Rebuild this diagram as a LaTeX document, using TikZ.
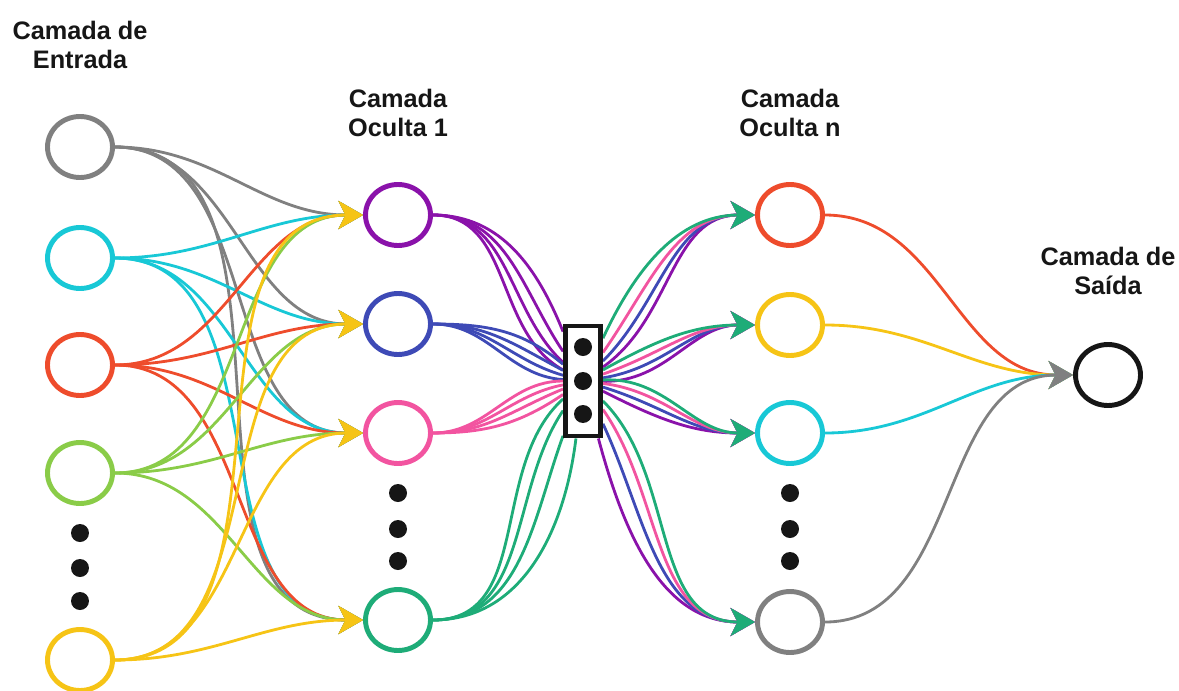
\documentclass[tikz,border=0pt]{standalone}
\usepackage{fontspec}
\setmainfont{Liberation Sans}
\usepackage{xcolor}
\usepackage{tikz}
\usetikzlibrary{arrows.meta,shapes.geometric,backgrounds}

\definecolor{cGray}{RGB}{128,128,128}
\definecolor{cCyan}{RGB}{24,200,214}
\definecolor{cRed}{RGB}{238,76,44}
\definecolor{cLime}{RGB}{138,204,72}
\definecolor{cYellow}{RGB}{246,196,22}
\definecolor{cPurple}{RGB}{138,18,170}
\definecolor{cBlue}{RGB}{62,74,182}
\definecolor{cPink}{RGB}{242,84,160}
\definecolor{cGreen}{RGB}{30,172,120}
\definecolor{cInk}{RGB}{22,22,22}

\begin{document}
\begin{tikzpicture}[x=0.02cm, y=-0.02cm,
      neuron/.style={ellipse, line width=2.8pt, fill=white, inner sep=0pt,
                     minimum width=1.3cm, minimum height=1.22cm},
      link/.style={line width=1.6pt},
      arr/.style={-{Stealth[length=14pt, width=16pt, inset=4pt]}},
      lbl/.style={font=\fontsize{14.4}{16}\selectfont\bfseries, text=cInk, align=center}
    ]
    \useasboundingbox (0,0) rectangle (1179,690);

    % ══ layer titles ══════════════════════════════════════════════════════════
    \node[lbl] (tIn)  at (80,45)    {Camada de\\Entrada};
    \node[lbl] (tH1)  at (398,113)  {Camada\\Oculta 1};
    \node[lbl] (tHn)  at (790,113)  {Camada\\Oculta n};
    \node[lbl] (tOut) at (1108,271) {Camada de\\Saída};

    % ══ neurons ═══════════════════════════════════════════════════════════════
    % input layer
    \node[neuron, draw=cGray]   (i1) at (80,147) {};
    \node[neuron, draw=cCyan]   (i2) at (80,258) {};
    \node[neuron, draw=cRed]    (i3) at (80,365) {};
    \node[neuron, draw=cLime]   (i4) at (80,473) {};
    \node[neuron, draw=cYellow] (i5) at (80,660) {};

    % hidden layer 1
    \node[neuron, draw=cPurple] (a1) at (398,215) {};
    \node[neuron, draw=cBlue]   (a2) at (398,324) {};
    \node[neuron, draw=cPink]   (a3) at (398,433) {};
    \node[neuron, draw=cGreen]  (a4) at (398,620) {};

    % hidden layer n
    \node[neuron, draw=cRed]    (b1) at (790,215) {};
    \node[neuron, draw=cYellow] (b2) at (790,325) {};
    \node[neuron, draw=cCyan]   (b3) at (790,433) {};
    \node[neuron, draw=cGray]   (b4) at (790,622) {};

    % output
    \node[neuron, draw=cInk] (out) at (1108,375) {};

    % the "more layers" box
    \node[draw=cInk, line width=2.8pt, fill=white, inner sep=0pt,
          minimum width=0.7cm, minimum height=2.2cm] (box) at (583,381) {};
    \fill[cInk] ([yshift=0.68cm]box.center) circle (0.18cm);
    \fill[cInk] (box.center) circle (0.18cm);
    \fill[cInk] ([yshift=-0.66cm]box.center) circle (0.18cm);

    % vertical ellipsis dots
    \foreach \y in {533,568,601} \fill[cInk] (80,\y) circle (0.18cm);
    \foreach \y in {493,529,561} {
      \fill[cInk] (398,\y) circle (0.18cm);
      \fill[cInk] (790,\y) circle (0.18cm);
    }

    % ══ connections ═══════════════════════════════════════════════════════════
    \begin{scope}[on background layer]
      % input -> hidden 1 (yellow drawn last, so its tips stay on top)
      \foreach \s/\c in {i1/cGray, i2/cCyan, i3/cRed, i4/cLime, i5/cYellow}
        \foreach \t in {a1,a2,a3,a4}
          \draw[link, arr, \c] (\s.east) to[out=0, in=180] (\t.west);

      % hidden 1 -> box, fanning into its left side
      \foreach \s/\c/\angs in {a1/cPurple/{112,124,137,151},
                               a2/cBlue/{140,152,164,176},
                               a3/cPink/{180,191,202,214},
                               a4/cGreen/{222,236,250,263}}
        \foreach \a in \angs
          \draw[link, \c] (\s.east) to[out=0, in=\a] (box.\a);

      % box -> hidden n
      \foreach \c/\d in {cPurple/-15, cBlue/-5, cPink/5, cGreen/15}
        \foreach \t/\base in {b1/50, b2/14, b3/348, b4/300} {
          \pgfmathtruncatemacro\a{mod(\base+\d+360,360)}
          \draw[link, arr, \c] (box.\a) to[out=\a, in=180] (\t.west);
        }

      % hidden n -> output
      \foreach \s/\c in {b1/cRed, b2/cYellow, b3/cCyan, b4/cGray}
        \draw[link, arr, \c] (\s.east) to[out=0, in=180] (out.west);
    \end{scope}

  \end{tikzpicture}
\end{document}
